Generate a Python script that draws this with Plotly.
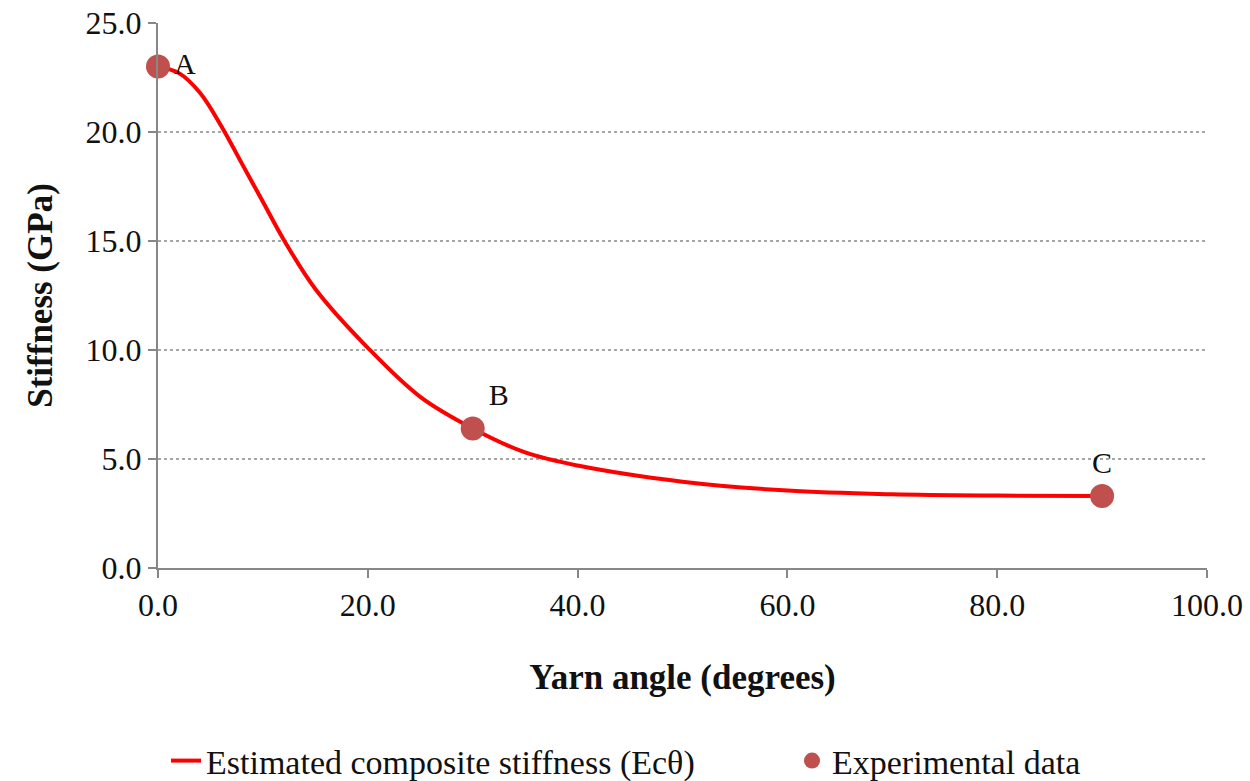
import plotly.graph_objects as go

# Estimated composite stiffness curve
curve_angle = [0, 2, 4, 6, 8, 10, 12, 15, 20, 25, 30, 35, 40, 50, 60, 70, 80, 90]
curve_stiff = [23.0, 22.7, 21.8, 20.3, 18.55, 16.8, 15.05, 12.8, 10.1, 7.85, 6.4, 5.3, 4.7, 3.96, 3.55, 3.38, 3.32, 3.3]

# Experimental data
exp_angle = [0, 30, 90]
exp_stiff = [23.0, 6.4, 3.3]
exp_labels = ["A", "B", "C"]
label_pos = ["middle right", "top right", "top center"]

x_ticks = [0, 20, 40, 60, 80, 100]
y_ticks = [0, 5, 10, 15, 20, 25]

FONT = "Liberation Serif"
AXIS_COL = "#878787"

fig = go.Figure()
fig.add_trace(go.Scatter(
    x=curve_angle, y=curve_stiff, mode="lines",
    line=dict(color="#FF0000", width=4, shape="spline", smoothing=1.0),
    name="Estimated composite stiffness (Ecθ)", cliponaxis=False,
    legend="legend",
))
fig.add_trace(go.Scatter(
    x=exp_angle, y=exp_stiff, mode="markers+text",
    marker=dict(color="#C0504D", size=24),
    text=exp_labels, textposition=label_pos,
    textfont=dict(family=FONT, size=30, color="#111111"),
    name="Experimental data", cliponaxis=False,
    legend="legend2",
))

leg_common = dict(orientation="h", xref="container", yref="container",
                  xanchor="left", yanchor="middle", y=1 - 761 / 781,
                  bgcolor="rgba(0,0,0,0)",
                  font=dict(family=FONT, size=34, color="#111111"))

fig.update_layout(
    width=1250, height=781,
    margin=dict(l=158, r=43, t=23, b=213, autoexpand=False),
    paper_bgcolor="white", plot_bgcolor="white",
    font=dict(family=FONT, size=32, color="#111111"),
    showlegend=True,
    legend=dict(x=166 / 1250, **leg_common),
    legend2=dict(x=792 / 1250, **leg_common),
)
fig.update_xaxes(
    range=[0, 100], tickvals=x_ticks, tickformat=".1f",
    showline=True, linecolor=AXIS_COL, linewidth=2,
    ticks="outside", ticklen=8, tickcolor=AXIS_COL, tickwidth=2,
    showgrid=False, zeroline=False, automargin=False,
    tickfont=dict(family=FONT, size=32),
    title=dict(text="<b>Yarn angle (degrees)</b>", font=dict(family=FONT, size=35), standoff=42),
)
fig.update_yaxes(
    range=[0, 25], tickvals=y_ticks, tickformat=".1f",
    showline=True, linecolor=AXIS_COL, linewidth=2,
    ticks="outside", ticklen=8, tickcolor=AXIS_COL, tickwidth=2,
    showgrid=True, gridcolor="#A6A6A6", gridwidth=2, griddash="dot",
    zeroline=False, automargin=False,
    tickfont=dict(family=FONT, size=32),
    title=dict(text="<b>Stiffness (GPa)</b>", font=dict(family=FONT, size=35), standoff=22),
)

fig.write_html("out.html", config={"displayModeBar": False},
               post_script="document.body.style.margin='0';")
